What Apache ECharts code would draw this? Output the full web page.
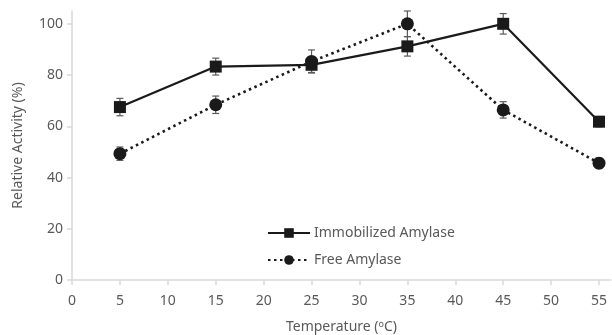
<!DOCTYPE html>
<html>
<head>
<meta charset="utf-8">
<script src="https://cdn.jsdelivr.net/npm/echarts@6/dist/echarts.min.js"></script>
<style>html,body{margin:0;padding:0;background:#fff}#c{width:612px;height:335px}</style>
</head>
<body>
<div id="c"></div>
<script>
var temps = [5, 15, 25, 35, 45, 55];
var immobilized = [67.5, 83.3, 84, 91.2, 100, 61.8];
var immobilizedErr = [3.4, 3.3, 3, 3.8, 4, 2];
var free = [49.3, 68.4, 85.3, 100, 66.4, 45.6];
var freeErr = [2.6, 3.4, 4.5, 5, 3.2, 2];
var xTicks = [0, 5, 10, 15, 20, 25, 30, 35, 40, 45, 50, 55];
var yTicks = [0, 20, 40, 60, 80, 100];

var FONT = 'Noto Sans';
var labelColor = '#595959';

function pairs(xs, ys) { return xs.map(function (x, i) { return [x, ys[i]]; }); }
function errData(xs, ys, es) { return xs.map(function (x, i) { return [x, ys[i] - es[i], ys[i] + es[i]]; }); }

function errRender(params, api) {
  var x = api.value(0);
  var lo = api.coord([x, api.value(1)]);
  var hi = api.coord([x, api.value(2)]);
  var w = 3.5;
  var st = { stroke: '#5a5a5a', lineWidth: 1.2 };
  return {
    type: 'group',
    children: [
      { type: 'line', shape: { x1: lo[0], y1: lo[1], x2: hi[0], y2: hi[1] }, style: st },
      { type: 'line', shape: { x1: lo[0] - w, y1: lo[1], x2: lo[0] + w, y2: lo[1] }, style: st },
      { type: 'line', shape: { x1: hi[0] - w, y1: hi[1], x2: hi[0] + w, y2: hi[1] }, style: st }
    ]
  };
}

var chart = echarts.init(document.getElementById('c'), null, { renderer: 'canvas' });
chart.setOption({
  animation: false,
  backgroundColor: '#fff',
  textStyle: { fontFamily: FONT },
  grid: { left: 72, right: 1, top: 11, bottom: 55, containLabel: false, outerBoundsMode: 'none' },
  legend: {
    orient: 'vertical',
    left: 262,
    top: 221,
    itemWidth: 42,
    itemHeight: 12,
    itemGap: 13,
    textStyle: { fontFamily: FONT, fontSize: 14, color: labelColor, padding: [0, 0, 0, -1] },
    data: ['Immobilized Amylase', 'Free Amylase']
  },
  xAxis: {
    type: 'value',
    min: 0,
    max: 56.25,
    interval: 5,
    name: 'Temperature ({s|o}C)',
    nameLocation: 'middle',
    nameGap: 40,
    nameTextStyle: {
      fontFamily: FONT, fontSize: 14, color: labelColor,
      rich: { s: { fontFamily: FONT, fontSize: 9, color: labelColor, verticalAlign: 'top', padding: [0, 0, 6, 0] } }
    },
    axisLine: { show: true, lineStyle: { color: '#d9d9d9', width: 1.5 } },
    axisTick: { show: true, length: 5, lineStyle: { color: '#d9d9d9', width: 1.5 }, customValues: xTicks },
    axisLabel: { fontFamily: FONT, fontSize: 14, color: labelColor, margin: 14, customValues: xTicks },
    splitLine: { show: false }
  },
  yAxis: {
    type: 'value',
    min: 0,
    max: 105,
    interval: 20,
    name: 'Relative Activity (%)',
    nameLocation: 'middle',
    nameGap: 47,
    nameTextStyle: { fontFamily: FONT, fontSize: 14, color: labelColor },
    axisLine: { show: true, lineStyle: { color: '#d9d9d9', width: 1.5 } },
    axisTick: { show: true, length: 5, lineStyle: { color: '#d9d9d9', width: 1.5 }, customValues: yTicks },
    axisLabel: { fontFamily: FONT, fontSize: 14, color: labelColor, margin: 9, customValues: yTicks },
    splitLine: { show: false }
  },
  series: [
    {
      type: 'custom', name: 'errImm', renderItem: errRender, z: 1,
      data: errData(temps, immobilized, immobilizedErr), encode: { x: 0, y: [1, 2] }, silent: true
    },
    {
      type: 'custom', name: 'errFree', renderItem: errRender, z: 1,
      data: errData(temps, free, freeErr), encode: { x: 0, y: [1, 2] }, silent: true
    },
    {
      type: 'line', name: 'Immobilized Amylase', z: 3,
      data: pairs(temps, immobilized),
      symbol: 'rect', symbolSize: 12, showAllSymbol: true,
      itemStyle: { color: '#1a1a1a' },
      lineStyle: { color: '#1a1a1a', width: 2.2, type: 'solid' }
    },
    {
      type: 'line', name: 'Free Amylase', z: 3,
      data: pairs(temps, free),
      symbol: 'circle', symbolSize: 13, showAllSymbol: true,
      itemStyle: { color: '#1a1a1a' },
      lineStyle: { color: '#1a1a1a', width: 2.6, type: [2.5, 3.5] }
    }
  ]
});
</script>
</body>
</html>
